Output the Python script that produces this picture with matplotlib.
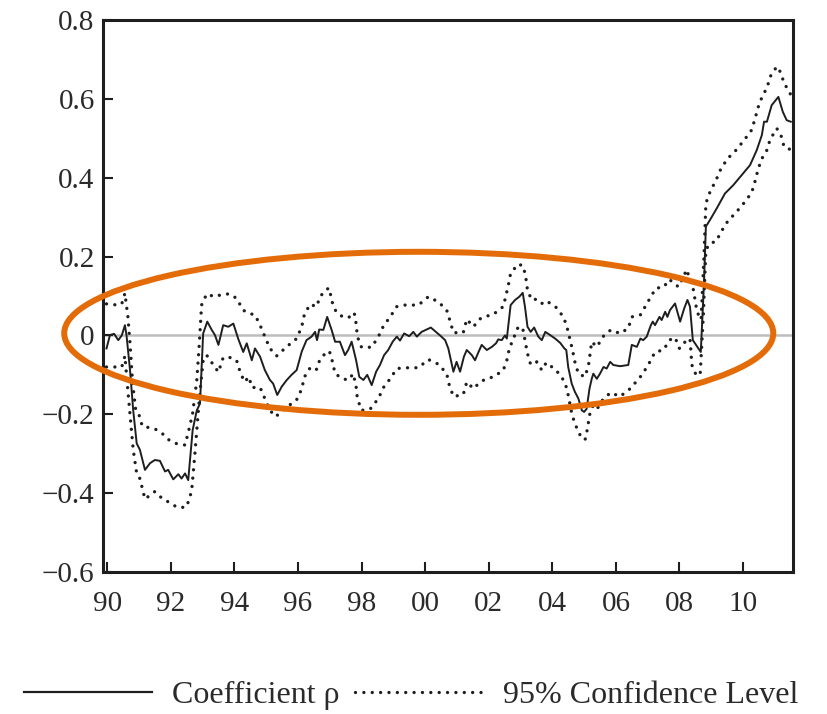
import matplotlib
matplotlib.use("Agg")
import matplotlib.pyplot as plt
from matplotlib.lines import Line2D
from matplotlib.patches import Ellipse

# ---------------- data (decimal years) ----------------
rho_x = [1989.98, 1990.09, 1990.22, 1990.35, 1990.46, 1990.56, 1990.61, 1990.72, 1990.82, 1990.93,
         1991.03, 1991.19, 1991.35, 1991.5, 1991.66, 1991.82, 1991.92, 1992.08, 1992.24, 1992.34,
         1992.45, 1992.55, 1992.69, 1992.82, 1992.92, 1993.02, 1993.15, 1993.29, 1993.39, 1993.5,
         1993.65, 1993.81, 1993.97, 1994.12, 1994.28, 1994.39, 1994.55, 1994.65, 1994.81, 1994.96,
         1995.12, 1995.22, 1995.35, 1995.49, 1995.65, 1995.8, 1995.96, 1996.12, 1996.27, 1996.43,
         1996.54, 1996.6, 1996.67, 1996.8, 1996.92, 1997.06, 1997.17, 1997.32, 1997.48, 1997.58,
         1997.69, 1997.83, 1997.93, 1998.06, 1998.18, 1998.32, 1998.46, 1998.58, 1998.71, 1998.84,
         1998.98, 1999.11, 1999.21, 1999.34, 1999.5, 1999.63, 1999.74, 1999.89, 2000.05, 2000.18,
         2000.31, 2000.47, 2000.63, 2000.73, 2000.89, 2000.99, 2001.1, 2001.22, 2001.31, 2001.47,
         2001.57, 2001.68, 2001.78, 2001.94, 2002.1, 2002.23, 2002.3, 2002.41, 2002.51, 2002.57,
         2002.69, 2002.83, 2002.96, 2003.07, 2003.14, 2003.22, 2003.32, 2003.43, 2003.56, 2003.67,
         2003.78, 2003.93, 2004.09, 2004.25, 2004.38, 2004.44, 2004.5, 2004.61, 2004.71, 2004.82,
         2004.93, 2005.0, 2005.08, 2005.17, 2005.24, 2005.29, 2005.4, 2005.5, 2005.61, 2005.71,
         2005.82, 2005.92, 2006.13, 2006.39, 2006.5, 2006.66, 2006.77, 2006.86, 2006.97, 2007.1,
         2007.16, 2007.23, 2007.37, 2007.44, 2007.55, 2007.62, 2007.7, 2007.86, 2008.02, 2008.15,
         2008.25, 2008.33, 2008.42, 2008.52, 2008.67, 2008.77, 2008.83, 2008.96, 2009.17, 2009.43,
         2009.69, 2009.96, 2010.22, 2010.43, 2010.59, 2010.66, 2010.75, 2010.9, 2011.11, 2011.25,
         2011.37, 2011.5]
rho_y = [-0.033, 0.001, 0.004, -0.012, 0.0, 0.026, 0.0, -0.088, -0.19, -0.274,
         -0.29, -0.341, -0.324, -0.316, -0.318, -0.345, -0.341, -0.365, -0.352, -0.363,
         -0.35, -0.367, -0.24, -0.19, -0.173, 0.005, 0.035, 0.014, 0.001, -0.024,
         0.026, 0.022, 0.03, -0.008, -0.042, -0.02, -0.063, -0.033, -0.054, -0.088,
         -0.113, -0.122, -0.151, -0.13, -0.113, -0.1, -0.088, -0.041, -0.012, -0.003,
         0.009, -0.012, 0.015, 0.014, 0.047, 0.014, -0.016, -0.016, -0.05, -0.037,
         -0.016, -0.063, -0.105, -0.113, -0.1, -0.126, -0.092, -0.075, -0.05, -0.037,
         -0.016, -0.003, -0.013, 0.005, -0.002, 0.009, -0.003, 0.009, 0.015, 0.02,
         0.011, 0.0, -0.012, -0.033, -0.092, -0.067, -0.092, -0.054, -0.037, -0.05,
         -0.063, -0.042, -0.024, -0.037, -0.029, -0.02, -0.01, -0.012, 0.0, -0.008,
         0.077, 0.09, 0.098, 0.108, 0.073, 0.022, 0.009, 0.02, -0.003, -0.012,
         0.009, 0.001, -0.008, -0.019, -0.033, -0.037, -0.08, -0.122, -0.143, -0.16,
         -0.19, -0.194, -0.186, -0.135, -0.11, -0.097, -0.11, -0.097, -0.08, -0.084,
         -0.067, -0.075, -0.078, -0.075, -0.024, -0.029, -0.008, -0.012, -0.003, 0.026,
         0.035, 0.026, 0.047, 0.039, 0.06, 0.047, 0.064, 0.081, 0.035, 0.069,
         0.09, 0.073, -0.012, -0.024, -0.042, 0.132, 0.276, 0.293, 0.322, 0.36,
         0.381, 0.407, 0.432, 0.47, 0.508, 0.542, 0.542, 0.584, 0.605, 0.567,
         0.546, 0.542]

upper_x = [1989.98, 1990.07, 1990.3, 1990.46, 1990.56, 1990.6, 1990.65, 1990.72, 1990.8, 1990.9,
           1991.03, 1991.1, 1991.5, 1991.71, 1991.97, 1992.2, 1992.45, 1992.6, 1992.69, 1992.82,
           1992.9, 1992.97, 1993.13, 1993.39, 1993.65, 1993.86, 1994.07, 1994.28, 1994.46, 1994.65,
           1994.81, 1994.96, 1995.12, 1995.33, 1995.67, 1995.96, 1996.12, 1996.2, 1996.38, 1996.59,
           1996.69, 1996.9, 1996.99, 1997.06, 1997.2, 1997.41, 1997.59, 1997.77, 1997.83, 1997.87,
           1998.0, 1998.32, 1998.53, 1998.69, 1998.9, 1999.11, 1999.37, 1999.79, 2000.1, 2000.42,
           2000.68, 2000.79, 2000.89, 2001.2, 2001.31, 2001.52, 2001.71, 2001.83, 2002.15, 2002.3,
           2002.46, 2002.62, 2002.69, 2002.93, 2003.09, 2003.17, 2003.22, 2003.35, 2003.51, 2003.67,
           2003.81, 2004.12, 2004.35, 2004.46, 2004.63, 2004.71, 2004.82, 2005.03, 2005.14, 2005.24,
           2005.4, 2005.61, 2005.84, 2006.13, 2006.39, 2006.5, 2006.77, 2007.07, 2007.26, 2007.5,
           2007.68, 2007.97, 2008.23, 2008.33, 2008.44, 2008.55, 2008.68, 2008.77, 2008.83, 2008.96,
           2009.15, 2009.31, 2009.52, 2009.78, 2010.04, 2010.27, 2010.38, 2010.48, 2010.62, 2010.75,
           2010.85, 2011.06, 2011.19, 2011.29, 2011.43, 2011.5]
upper_y = [0.08, 0.08, 0.077, 0.08, 0.107, 0.08, 0.05, -0.02, -0.12, -0.19,
           -0.206, -0.23, -0.237, -0.247, -0.267, -0.275, -0.278, -0.23, -0.197, -0.113,
           -0.02, 0.077, 0.105, 0.098, 0.105, 0.105, 0.094, 0.064, 0.056, 0.052,
           0.026, -0.003, -0.033, -0.052, -0.027, -0.008, 0.022, 0.052, 0.079, 0.073,
           0.098, 0.117, 0.12, 0.088, 0.06, 0.047, 0.045, 0.058, 0.03, -0.003,
           -0.03, -0.03, -0.003, 0.024, 0.047, 0.073, 0.077, 0.077, 0.098, 0.085,
           0.064, 0.035, 0.007, 0.007, 0.041, 0.022, 0.041, 0.047, 0.053, 0.064,
           0.073, 0.128, 0.158, 0.181, 0.176, 0.145, 0.115, 0.09, 0.092, 0.081,
           0.088, 0.071, 0.047, 0.022, -0.035, -0.067, -0.097, -0.105, -0.075, -0.016,
           -0.029, -0.002, 0.014, 0.005, 0.018, 0.047, 0.052, 0.094, 0.12, 0.122,
           0.142, 0.123, 0.167, 0.14, 0.115, 0.06, 0.04, 0.2, 0.335, 0.364,
           0.394, 0.424, 0.449, 0.47, 0.496, 0.521, 0.551, 0.58, 0.61, 0.627,
           0.656, 0.682, 0.666, 0.639, 0.622, 0.61]

lower_x = [1989.98, 1990.07, 1990.3, 1990.46, 1990.56, 1990.63, 1990.72, 1990.82, 1990.93, 1991.03,
           1991.12, 1991.19, 1991.5, 1991.75, 1991.97, 1992.2, 1992.48, 1992.58, 1992.66, 1992.76,
           1992.9, 1993.02, 1993.13, 1993.3, 1993.5, 1993.65, 1993.86, 1994.07, 1994.18, 1994.32,
           1994.46, 1994.55, 1994.81, 1994.96, 1995.12, 1995.3, 1995.65, 1995.96, 1996.12, 1996.2,
           1996.4, 1996.59, 1996.69, 1996.9, 1996.99, 1997.06, 1997.17, 1997.41, 1997.59, 1997.74,
           1997.83, 1997.87, 1998.0, 1998.27, 1998.53, 1998.69, 1998.9, 1999.11, 1999.37, 1999.79,
           2000.1, 2000.42, 2000.68, 2000.76, 2000.89, 2001.2, 2001.31, 2001.52, 2001.71, 2001.89,
           2002.15, 2002.3, 2002.46, 2002.57, 2002.65, 2002.93, 2003.07, 2003.14, 2003.22, 2003.32,
           2003.51, 2003.67, 2003.81, 2004.12, 2004.35, 2004.46, 2004.61, 2004.71, 2004.87, 2005.03,
           2005.11, 2005.17, 2005.29, 2005.42, 2005.61, 2005.84, 2006.13, 2006.45, 2006.77, 2006.92,
           2007.07, 2007.23, 2007.5, 2007.68, 2007.86, 2008.0, 2008.12, 2008.33, 2008.39, 2008.52,
           2008.65, 2008.75, 2008.83, 2008.96, 2009.15, 2009.31, 2009.52, 2009.78, 2010.04, 2010.27,
           2010.38, 2010.48, 2010.62, 2010.75, 2010.85, 2011.06, 2011.19, 2011.29, 2011.43, 2011.5]
lower_y = [-0.08, -0.08, -0.08, -0.08, -0.052, -0.12, -0.2, -0.29, -0.35, -0.363,
           -0.392, -0.415, -0.396, -0.415, -0.424, -0.436, -0.436, -0.417, -0.392, -0.3,
           -0.16, -0.063, -0.05, -0.07, -0.093, -0.056, -0.056, -0.063, -0.092, -0.118,
           -0.105, -0.132, -0.132, -0.16, -0.19, -0.206, -0.182, -0.163, -0.136, -0.106,
           -0.08, -0.086, -0.061, -0.042, -0.04, -0.058, -0.097, -0.11, -0.113, -0.097,
           -0.13, -0.16, -0.19, -0.187, -0.16, -0.132, -0.11, -0.084, -0.082, -0.082,
           -0.061, -0.073, -0.097, -0.126, -0.155, -0.15, -0.118, -0.135, -0.12, -0.111,
           -0.105, -0.097, -0.088, -0.063, -0.033, 0.022, 0.018, -0.012, -0.046, -0.074,
           -0.067, -0.088, -0.069, -0.088, -0.113, -0.135, -0.197, -0.224, -0.252, -0.265,
           -0.235, -0.202, -0.176, -0.185, -0.16, -0.145, -0.155, -0.135, -0.105, -0.087,
           -0.067, -0.042, -0.037, -0.012, -0.005, -0.033, -0.02, -0.008, -0.075, -0.1,
           -0.1, 0.05, 0.217, 0.234, 0.238, 0.263, 0.29, 0.312, 0.337, 0.362,
           0.392, 0.424, 0.453, 0.47, 0.497, 0.525, 0.508, 0.478, 0.474, 0.47]

x_ticks = [1990, 1992, 1994, 1996, 1998, 2000, 2002, 2004, 2006, 2008, 2010]
x_labels = ["90", "92", "94", "96", "98", "00", "02", "04", "06", "08", "10"]
y_ticks = [-0.6, -0.4, -0.2, 0.0, 0.2, 0.4, 0.6, 0.8]
y_labels = ["\u22120.6", "\u22120.4", "\u22120.2", "0", "0.2", "0.4", "0.6", "0.8"]
legend_labels = ["Coefficient \u03c1", "95% Confidence Level"]

# ---------------- figure ----------------
plt.rcParams["font.family"] = ["Liberation Serif", "DejaVu Serif"]
W, H = 827, 714
fig = plt.figure(figsize=(W / 100, H / 100), dpi=100)
ax = fig.add_axes([103 / W, 1 - 572 / H, (793 - 103) / W, (572 - 20) / H])

ink = "#1e1e1e"
dot_style = dict(color=ink, lw=2.4, linestyle=(0, (0.01, 2.5)), dash_capstyle="round")

ax.axhline(0, color="#bdbdbd", lw=1.8, zorder=1)
ax.plot(upper_x, upper_y, zorder=2, **dot_style)
ax.plot(lower_x, lower_y, zorder=2, **dot_style)
ax.plot(rho_x, rho_y, color=ink, lw=1.4, zorder=3)

ax.set_xlim(1989.87, 2011.57)
ax.set_ylim(-0.6, 0.8)
ax.set_xticks(x_ticks)
ax.set_xticklabels(x_labels)
ax.set_yticks(y_ticks)
ax.set_yticklabels(y_labels)
ax.tick_params(axis="both", direction="in", length=7, width=1.5, colors=ink,
               labelsize=21, labelcolor="#2a2a2a")
ax.tick_params(axis="x", pad=14)
ax.tick_params(axis="y", pad=6)
for s in ax.spines.values():
    s.set_linewidth(2.2)
    s.set_color(ink)

# orange highlight ellipse
ell = Ellipse((1999.80, 0.0054), width=22.30, height=0.4134, fill=False,
              edgecolor="#E36C09", lw=4.3, zorder=5, clip_on=False)
ax.add_patch(ell)

# legend
handles = [Line2D([], [], color=ink, lw=1.6),
           Line2D([], [], **dot_style)]
fig.legend(handles, legend_labels, loc="center", bbox_to_anchor=(0.497, 1 - 695 / H),
           ncol=2, frameon=False, fontsize=23, handlelength=4.0, handletextpad=0.62,
           columnspacing=0.5, labelcolor="#2a2a2a")

fig.savefig("out.png", dpi=100)
